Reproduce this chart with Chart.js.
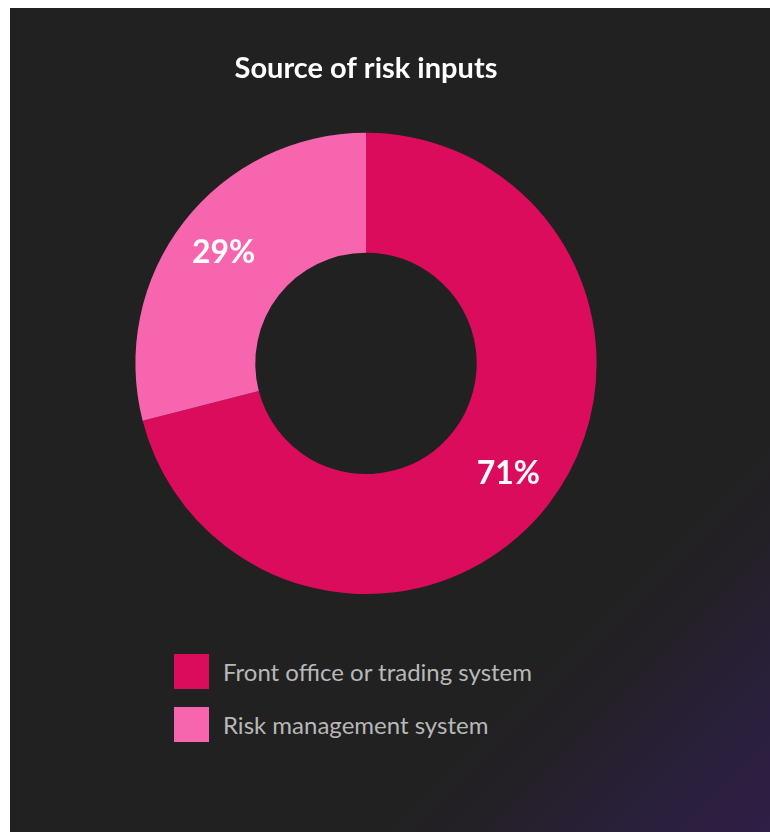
<!DOCTYPE html>
<html>
<head>
<meta charset="utf-8">
<script src="https://cdn.jsdelivr.net/npm/chart.js@4/dist/chart.umd.min.js"></script>
<style>
  html, body { margin: 0; padding: 0; background: #ffffff; }
  body { width: 770px; height: 832px; position: relative; overflow: hidden; font-family: Lato, "Open Sans", sans-serif; }
  #panel {
    position: absolute; left: 10px; top: 8px; width: 760px; height: 824px;
    background: linear-gradient(135deg, #212121 0%, #212121 74%, #242027 81%, #29203a 90%, #2f1e46 100%);
  }
  #chartBox { position: absolute; left: 0; top: 0; width: 712px; height: 586px; }
  #legend { position: absolute; left: 164px; top: 637px; }
  .item { display: flex; align-items: center; height: 53px; }
  .swatch { width: 35px; height: 35px; margin-right: 14px; }
  .label { color: #b8b8b8; font-size: 24px; font-family: Lato, sans-serif; }
</style>
</head>
<body>
<div id="panel">
  <div id="chartBox"><canvas id="c"></canvas></div>
  <div id="legend"></div>
</div>
<script>
const categories = ['Front office or trading system', 'Risk management system'];
const shares = [71, 29];
const sliceColors = ['#dc0c5c', '#f865af'];
const chartTitle = 'Source of risk inputs';

// Percentage labels drawn inside each ring segment
const sliceLabels = {
  id: 'sliceLabels',
  afterDatasetsDraw(chart) {
    const ctx = chart.ctx;
    const meta = chart.getDatasetMeta(0);
    ctx.save();
    ctx.font = 'bold 32px Lato, sans-serif';
    ctx.fillStyle = '#ffffff';
    ctx.textAlign = 'center';
    ctx.textBaseline = 'middle';
    meta.data.forEach((arc, i) => {
      const p = arc.getProps(['x', 'y', 'startAngle', 'endAngle', 'innerRadius', 'outerRadius']);
      const mid = (p.startAngle + p.endAngle) / 2;
      const r = p.innerRadius + 0.58 * (p.outerRadius - p.innerRadius);
      ctx.fillText(shares[i] + '%', p.x + Math.cos(mid) * r, p.y + Math.sin(mid) * r);
    });
    ctx.restore();
  }
};

new Chart(document.getElementById('c'), {
  type: 'doughnut',
  data: {
    labels: categories,
    datasets: [{ data: shares, backgroundColor: sliceColors, borderWidth: 0 }]
  },
  options: {
    responsive: true,
    maintainAspectRatio: false,
    animation: false,
    cutout: '48%',
    layout: { padding: 0 },
    plugins: {
      legend: { display: false },
      tooltip: { enabled: false },
      title: {
        display: true,
        text: chartTitle,
        color: '#ffffff',
        font: { family: 'Lato, sans-serif', size: 29, weight: 'bold', lineHeight: 1.2 },
        padding: { top: 43, bottom: 47 }
      }
    }
  },
  plugins: [sliceLabels]
});

// Legend rows built from the same category and colour arrays
const legend = document.getElementById('legend');
categories.forEach((name, i) => {
  const row = document.createElement('div');
  row.className = 'item';
  const sw = document.createElement('div');
  sw.className = 'swatch';
  sw.style.background = sliceColors[i];
  const tx = document.createElement('span');
  tx.className = 'label';
  tx.textContent = name;
  row.appendChild(sw);
  row.appendChild(tx);
  legend.appendChild(row);
});
</script>
</body>
</html>
